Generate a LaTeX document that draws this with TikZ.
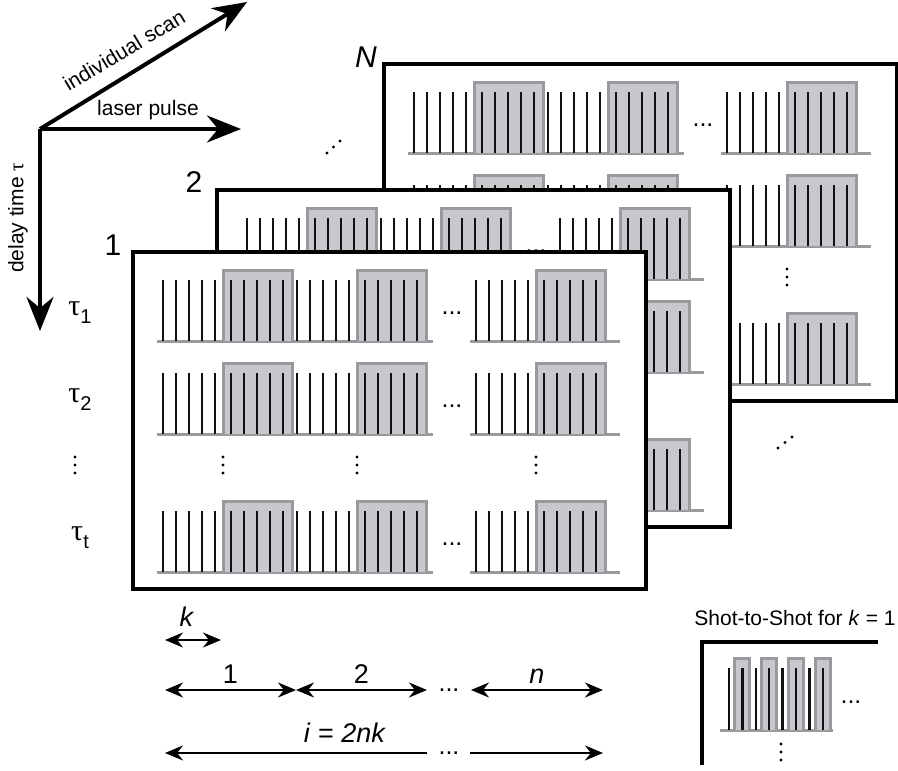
\documentclass[tikz,border=0pt]{standalone}
\usepackage{fontspec}
\setmainfont{Liberation Sans}
\newfontfamily\taufont{Liberation Serif}
\usetikzlibrary{arrows.meta,positioning}
\definecolor{PulseGray}{HTML}{989A9E}
\definecolor{PulseFill}{HTML}{C6C8CC}
\definecolor{PulseInk}{HTML}{111111}
\newcommand{\pulsegroup}[2]{%
  \fill[PulseFill] (#1+60,#2) rectangle (#1+129,#2-71);
  \draw[gate] (#1+60,#2) |- (#1+129,#2-71) -- (#1+129,#2);
  \foreach \j in {0,...,4} {
    \draw[shot] (#1+13*\j,#2) -- ++(0,-61);
    \draw[shot] (#1+68+13*\j,#2) -- ++(0,-61);
  }}
\newcommand{\vdotsat}[2]{\foreach \d in {-8,0,8} \fill (#1,#2+\d) circle (1.7pt);}
\newcommand{\shotpanel}[1]{%
  \begin{scope}[shift={(#1.north west)}]
    \foreach \b in {89,182,320} {
      \draw[base] (24,\b) -- (300,\b);
      \draw[base] (337,\b) -- (487,\b);
      \foreach \s in {30,164,343} {\pulsegroup{\s}{\b}}
      \node[dots] at (319,\b-28) {...};
    }
    \foreach \s in {90,224,403} {\vdotsat{\s}{213}}
  \end{scope}}
\newcommand{\taulabel}[1]{{\taufont\fontsize{30}{32}\selectfont τ}\raisebox{-8pt}{\fontsize{20}{22}\selectfont #1}}

\begin{document}
\begin{tikzpicture}[x=1pt,y=-1pt,
    panel/.style={draw,line width=4pt,fill=white,minimum width=513pt,minimum height=337pt,inner sep=0pt,outer sep=0pt,anchor=north west},
    base/.style={PulseGray,line width=3pt},
    gate/.style={PulseGray,line width=3pt},
    shot/.style={PulseInk,line width=2.5pt},
    dots/.style={inner sep=0pt,font=\fontsize{25}{25}\selectfont},
    lbl/.style={inner sep=0pt,font=\fontsize{21}{24}\selectfont},
    num/.style={inner sep=0pt,font=\fontsize{30}{34}\selectfont},
    dimlbl/.style={inner sep=0pt,font=\fontsize{27}{30}\selectfont},
    axis/.style={line width=4pt,-{Stealth[length=34pt,width=27pt]}},
    dim/.style={line width=2pt,>={Stealth[length=18pt,width=15pt]}}
  ]
  \useasboundingbox (0,0) rectangle (898,771);

  \coordinate (orig) at (40,129);
  \coordinate (scanend) at (247,2);
  \coordinate (pulseend) at (241,129);
  \coordinate (delayend) at (40,331);
  \draw[axis] (orig) -- (scanend);
  \draw[axis] (orig) -- (pulseend);
  \draw[axis] (orig) -- (delayend);
  \node[lbl,rotate=31] (scanlbl) at (124,50) {individual scan};
  \node[lbl] (pulselbl) at (148,110) {laser pulse};
  \node[lbl,rotate=90] (delaylbl) at (18,218) {delay time {\taufont τ}};

  \node[panel] (panelN) at (384,64) {};
  \shotpanel{panelN}
  \node[panel] (panel2) at (217,190) {};
  \shotpanel{panel2}
  \node[panel] (panel1) at (133,252) {};
  \shotpanel{panel1}

  \node[num] (numN) at (366,57) {\textit{N}};
  \node[num] (num2) at (194,182) {2};
  \node[num] (num1) at (113,245) {1};
  \foreach \d in {0,1,2} {
    \fill (327+6.5*\d,153-6*\d) circle (1.7pt);
    \fill (778+7*\d,448-5.5*\d) circle (1.7pt);
  }

  \node[inner sep=0pt] (tau1) at (80,313) {\taulabel{1}};
  \node[inner sep=0pt] (tau2) at (80,400) {\taulabel{2}};
  \vdotsat{75}{465}
  \node[inner sep=0pt] (taut) at (80,538) {\taulabel{t}};

  \coordinate (k0) at (165,640);
  \coordinate (k1) at (221,640);
  \draw[dim,<->] (k0) -- node[dimlbl,above=13pt,xshift=-6pt] {\textit{k}} (k1);

  \coordinate (a0) at (165,690);
  \coordinate (a1) at (296,690);
  \coordinate (a2) at (427,690);
  \coordinate (a3) at (471,690);
  \coordinate (a4) at (603,690);
  \draw[dim,<->] (a0) -- node[dimlbl,above=6pt] {1} (a1);
  \draw[dim,<->] (a1) -- node[dimlbl,above=6pt] {2} (a2);
  \node[dots] (rowdots) at (449,690) {...};
  \draw[dim,<->] (a3) -- node[dimlbl,above=6pt] {\textit{n}} (a4);

  \coordinate (b0) at (165,753);
  \coordinate (b1) at (427,753);
  \coordinate (b2) at (470,753);
  \coordinate (b3) at (603,753);
  \draw[dim,<-] (b0) -- (b1);
  \node[dots] (totdots) at (449,753) {...};
  \draw[dim,->] (b2) -- (b3);
  \node[dimlbl] (totlbl) at (345,733) {\textit{i} = \textit{2nk}};

  \node[lbl] (insetlbl) at (795,618) {Shot-to-Shot for \textit{k} = 1};
  \coordinate (insetcorner) at (702,642);
  \draw[line width=4pt] (702,765) -- (insetcorner) -- (878,642);
  \draw[base] (720,730) -- (833,730);
  \foreach \j in {1,3,5,7} {
    \fill[PulseFill] (721.5+13.4*\j,730) rectangle (736.5+13.4*\j,658);
    \draw[gate] (721.5+13.4*\j,730) |- (736.5+13.4*\j,658) -- (736.5+13.4*\j,730);
  }
  \foreach \j in {0,...,7} \draw[shot] (729+13.4*\j,730) -- ++(0,-62);
  \node[dots] (insetdots) at (851,702) {...};
  \vdotsat{781}{752}
\end{tikzpicture}
\end{document}
